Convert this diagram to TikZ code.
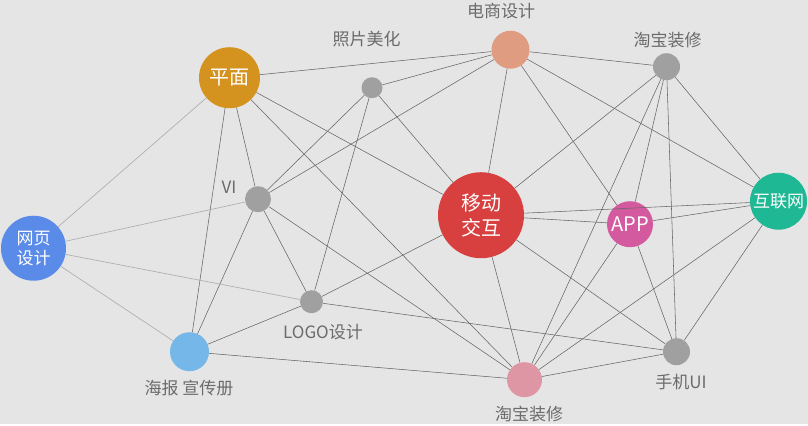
\documentclass[tikz,border=0pt]{standalone}
\usepackage{fontspec}
\newfontfamily\cjk{Noto Sans CJK SC}
\definecolor{bg}{HTML}{E5E5E5}
\definecolor{pmcol}{HTML}{D4921F}
\definecolor{dscol}{HTML}{E09C80}
\definecolor{hlwcol}{HTML}{1EB894}
\definecolor{appcol}{HTML}{D45AA0}
\definecolor{ydcol}{HTML}{D84040}
\definecolor{wycol}{HTML}{5B8BE8}
\definecolor{hbcol}{HTML}{74B7E8}
\definecolor{tbcol}{HTML}{DE96A5}
\definecolor{dotgray}{HTML}{A0A0A0}
\tikzset{
  dot/.style={circle,inner sep=0pt,text=white,align=center,font=\cjk\fontsize{17}{20}\selectfont},
  tag/.style={text=black!58,font=\cjk\fontsize{17}{20}\selectfont},
  link/.style={draw=black!60,line width=0.55pt},
  weblink/.style={draw=black!32,line width=0.65pt}
}

\begin{document}
\begin{tikzpicture}[x=1pt,y=-1pt]
  \fill[bg] (0,0) rectangle (808,424);
  % circles
  \node[dot,fill=pmcol,minimum size=61pt,font=\cjk\fontsize{20}{24}\selectfont] (pm) at (229.5,77.5) {平面};
  \node[dot,fill=dotgray,minimum size=21pt] (zp) at (372,87.5) {};
  \node[dot,fill=dscol,minimum size=38pt] (ds) at (510.5,49.5) {};
  \node[dot,fill=dotgray,minimum size=27pt] (tbt) at (666.5,66.5) {};
  \node[dot,fill=hlwcol,minimum size=57pt] (hlw) at (778.5,201) {互联网};
  \node[dot,fill=appcol,minimum size=46pt,font=\cjk\fontsize{20}{24}\selectfont] (app) at (630,224) {APP};
  \node[dot,fill=ydcol,minimum size=86pt,font=\cjk\fontsize{20}{25}\selectfont] (yd) at (481,215) {移动\\交互};
  \node[dot,fill=dotgray,minimum size=26pt] (vi) at (258,199) {};
  \node[dot,fill=wycol,minimum size=65pt] (wy) at (33.5,248) {网页\\设计};
  \node[dot,fill=dotgray,minimum size=23pt] (logo) at (311.5,301.5) {};
  \node[dot,fill=hbcol,minimum size=39pt] (hb) at (189.5,351.5) {};
  \node[dot,fill=tbcol,minimum size=35pt] (tbb) at (524.5,379.5) {};
  \node[dot,fill=dotgray,minimum size=27pt] (sj) at (676.5,351.5) {};
  % labels
  \node[tag] (zp-t) at (366.5,39) {照片美化};
  \node[tag] (ds-t) at (501,11) {电商设计};
  \node[tag] (tbt-t) at (667.5,40) {淘宝装修};
  \node[tag] (vi-t) at (229,187) {VI};
  \node[tag] (logo-t) at (323,332) {LOGO设计};
  \node[tag] (hb-t) at (189,388) {海报 宣传册};
  \node[tag] (tbb-t) at (529,414) {淘宝装修};
  \node[tag] (sj-t) at (681,382) {手机UI};
  % links
  \foreach \a/\b in {pm/ds,pm/hb,pm/vi,pm/tbb,pm/yd,zp/ds,zp/vi,zp/logo,zp/yd,
                     vi/ds,vi/logo,vi/hb,vi/tbb,logo/yd,logo/sj,logo/hb,hb/tbb,
                     ds/tbt,ds/yd,ds/app,ds/hlw,tbt/yd,tbt/tbb,tbt/app,tbt/sj,tbt/hlw,
                     yd/hlw,yd/app,yd/sj,yd/tbb,app/hlw,app/tbb,app/sj,hlw/tbb,hlw/sj,sj/tbb}
    \draw[link] (\a) -- (\b);
  \foreach \b in {pm,vi,logo,hb}
    \draw[weblink] (wy) -- (\b);
\end{tikzpicture}
\end{document}
